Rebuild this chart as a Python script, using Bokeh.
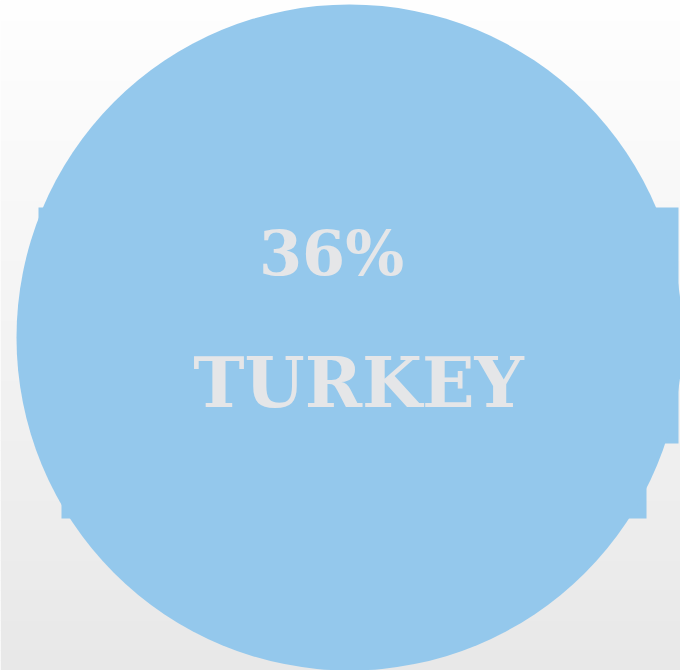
from bokeh.plotting import figure
from bokeh.models import Range1d
from bokeh.core.properties import value
from bokeh.embed import file_html
from bokeh.resources import INLINE

# data
countries = ["TURKEY"]
shares = [36]
share_labels = ["36%"]

W, H = 680, 670
p = figure(width=W, height=H, output_backend="svg", toolbar_location=None,
           x_range=Range1d(0, W), y_range=Range1d(H, 0),
           min_border=0)
p.axis.visible = False
p.grid.visible = False
p.outline_line_color = None
p.background_fill_color = "#fdfdfd"
p.border_fill_color = "#fdfdfd"

# background vertical gradient
n = 67
tops, bottoms, cols = [], [], []
for i in range(n):
    y0 = i * H / n
    y1 = (i + 1) * H / n + 0.6
    t = (i + 0.5) / n
    g = int(round(254 - 22 * t))
    tops.append(y0); bottoms.append(y1); cols.append("#%02x%02x%02x" % (g, g, g))
p.quad(left=0, right=W, top=tops, bottom=bottoms, fill_color=cols, line_color=None)

blue = "#94c8ec"
# notch rectangles behind the bubble
p.quad(left=[38, 61], right=[678, 646], top=[207, 207], bottom=[443, 518],
       fill_color=blue, line_color=None)
# bubble
p.circle(x=[349], y=[337], radius=[333], fill_color=blue, line_color=None)

p.text(x=[331], y=[253], text=share_labels, text_font=value("DejaVu Serif"),
       text_font_style="bold", text_font_size="62px", text_color="#e5e6e8",
       text_align="center", text_baseline="alphabetic")
p.text(x=[358], y=[382], text=countries, text_font=value("DejaVu Serif"),
       text_font_style="bold", text_font_size="69px", text_color="#e5e6e8",
       text_align="center", text_baseline="alphabetic")

open("out.html", "w").write(file_html(p, INLINE))
